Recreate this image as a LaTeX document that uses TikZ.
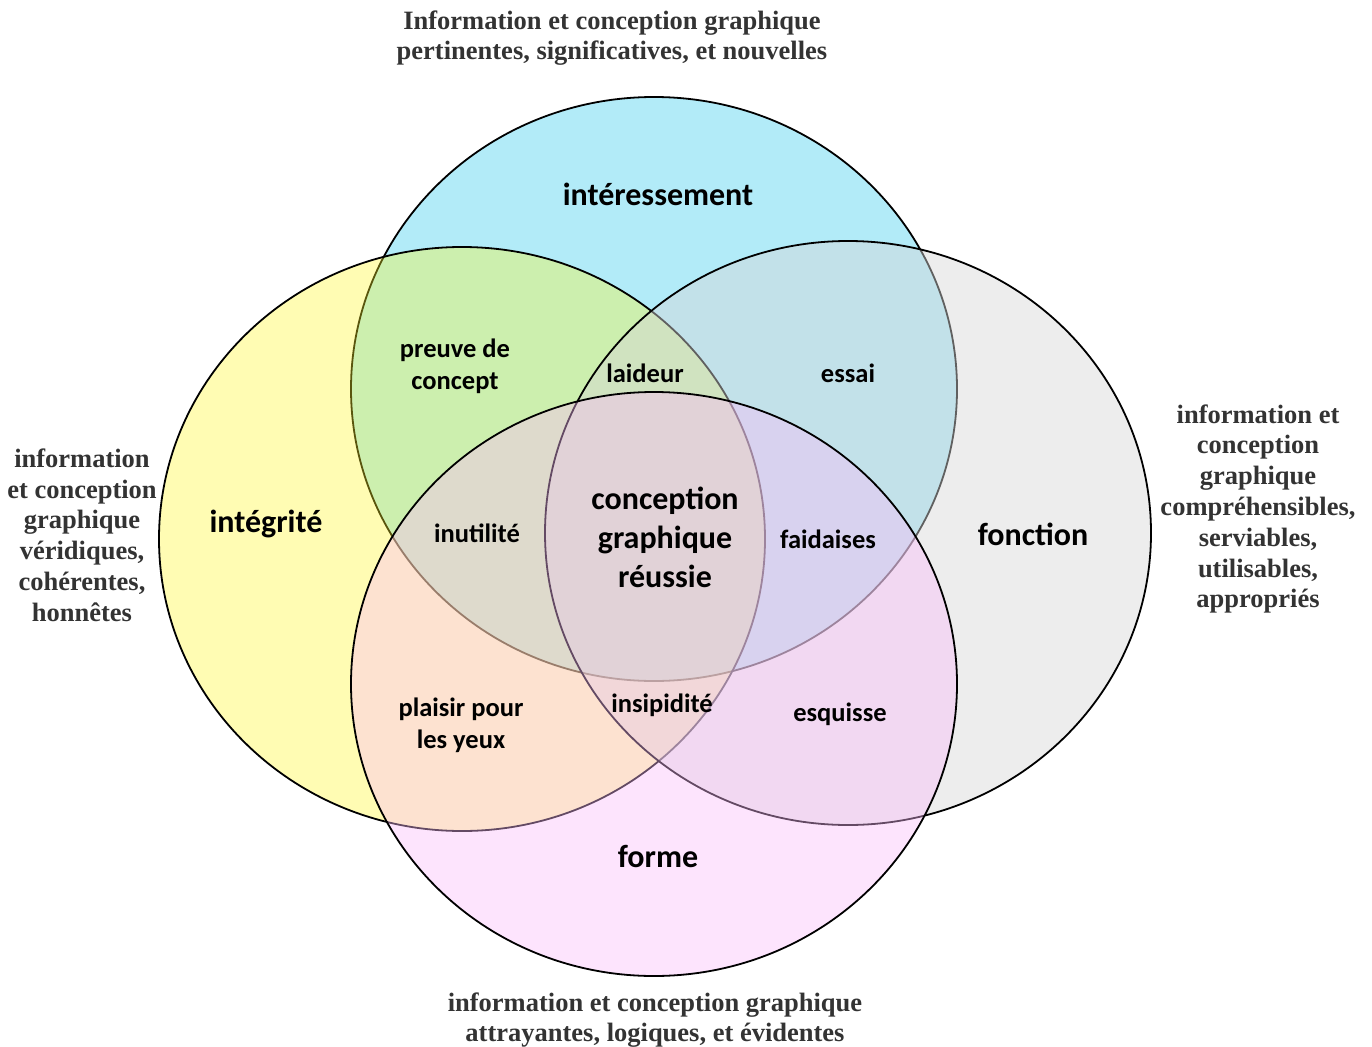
\documentclass[tikz,border=0pt]{standalone}
\usepackage{fontspec}
\setmainfont{Liberation Serif}
\newfontfamily\calib{Carlito}
\usetikzlibrary{shapes.geometric}
\definecolor{cyanf}{RGB}{101,215,241}
\definecolor{yellowf}{RGB}{255,246,38}
\definecolor{greyf}{RGB}{214,214,214}
\definecolor{pinkf}{RGB}{250,187,250}
\definecolor{outtxt}{RGB}{51,51,51}
\tikzset{
  setblob/.style={ellipse, draw=black, line width=1.8pt, fill=#1, draw opacity=1,
    minimum width=606pt, minimum height=584pt, inner sep=0pt},
  biglab/.style={font=\calib\bfseries\fontsize{32}{39}\selectfont, align=center, text=black, inner sep=0pt},
  midlab/.style={font=\calib\bfseries\fontsize{26.5}{32}\selectfont, align=center, text=black, inner sep=0pt},
  outlab/.style={font=\bfseries\fontsize{26.5}{30.8}\selectfont, align=center, text=outtxt, inner sep=0pt},
}
\begin{document}
\begin{tikzpicture}[x=1pt,y=-1pt]
\useasboundingbox (0,0) rectangle (1372,1046);
% sets
\node[setblob=cyanf, fill opacity=0.5]    (cyanset)   at (654,389) {};
\node[setblob=yellowf, fill opacity=0.35] (yellowset) at (462,539) {};
\node[setblob=greyf, fill opacity=0.45]   (greyset)   at (848,533) {};
\node[setblob=pinkf, fill opacity=0.4]    (pinkset)   at (654,684) {};
% set names
\node[biglab] (interessement) at (658,194) {intéressement};
\node[biglab] (integrite) at (266,524) {intégrité};
\node[biglab] (fonction) at (1033,534) {fonction};
\node[biglab] (forme) at (658,856) {forme};
\node[biglab] (centre) at (665,537) {conception\\graphique\\réussie};
% intersections
\node[midlab] (preuve) at (455,366) {preuve de\\concept};
\node[midlab] (laideur) at (645,373) {laideur};
\node[midlab] (essai) at (848,373) {essai};
\node[midlab] (inutilite) at (477,533) {inutilité};
\node[midlab] (faidaises) at (828,539) {faidaises};
\node[midlab] (plaisir) at (461,725) {plaisir pour\\les yeux};
\node[midlab] (insipidite) at (662,705) {insipidité};
\node[midlab] (esquisse) at (840,714) {esquisse};
% outside descriptions
\node[outlab] (toptxt) at (612,38) {Information et conception graphique\\pertinentes, significatives, et nouvelles};
\node[outlab] (lefttxt) at (82,535) {information\\et conception\\graphique\\véridiques,\\cohérentes,\\honnêtes};
\node[outlab] (righttxt) at (1258,509) {information et\\conception\\graphique\\compréhensibles,\\serviables,\\utilisables,\\appropriés};
\node[outlab] (bottxt) at (655,1020) {information et conception graphique\\attrayantes, logiques, et évidentes};
\end{tikzpicture}
\end{document}
